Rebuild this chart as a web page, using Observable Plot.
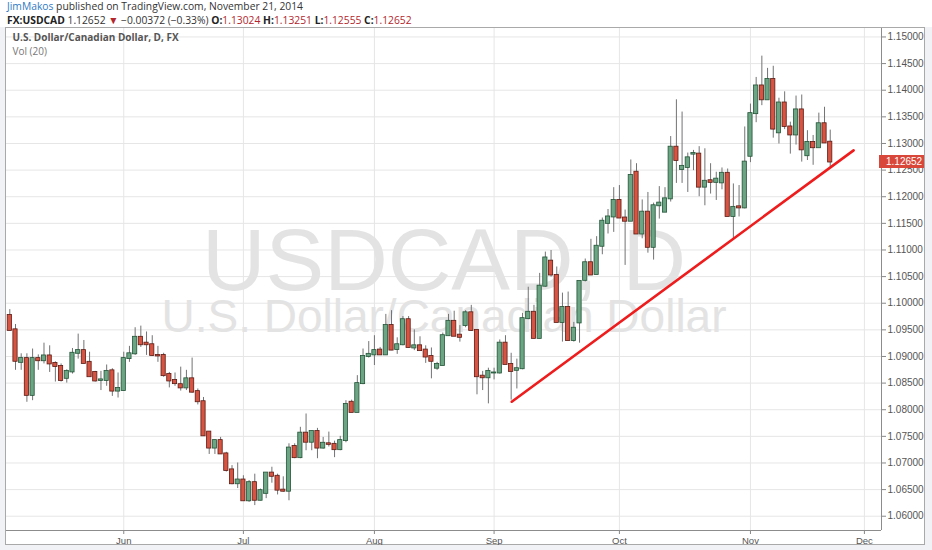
<!DOCTYPE html>
<html>
<head>
<meta charset="utf-8">
<script src="https://cdn.jsdelivr.net/npm/d3@7"></script>
<script src="https://cdn.jsdelivr.net/npm/@observablehq/plot@0.6"></script>
<style>
  html, body { margin: 0; padding: 0; background: #f0f2f6; }
  #hdr { width: 932px; height: 27px; background: #fff; font-family: "Open Sans", sans-serif; font-size: 10px; line-height: 13.6px; color: #333; position: relative; }
  #hdr .l1 { position: absolute; left: 7px; top: 0px; white-space: nowrap; font-size: 10.3px; }
  #hdr .l2 { position: absolute; left: 7px; top: 13.8px; white-space: nowrap; font-size: 10.3px; }
  #hdr .user { color: #2f7bc4; }
  #hdr b { color: #222; }
  #hdr .rd { color: #b3262c; }
  #wrap { margin-left: 5px; width: 920px; height: 518px; border: 1px solid #a9a9a9; box-sizing: border-box; background: #fff; }
  #wrap svg { display: block; }
</style>
</head>
<body>
<div id="hdr">
  <div class="l1"><span class="user">JimMakos</span> published on TradingView.com, November 21, 2014</div>
  <div class="l2"><b>FX:USDCAD</b> 1.12652 <span class="rd">&#9660;</span> &minus;0.00372 (&minus;0.33%) <b>O:</b><span class="rd">1.13024</span> <b>H:</b><span class="rd">1.13251</span> <b>L:</b><span class="rd">1.12555</span> <b>C:</b><span class="rd">1.12652</span></div>
</div>
<div id="wrap"></div>
<script>
// daily USDCAD candles, early May to Nov 21 2014 (bar index = trading day)
const open = [
  1.0977, 1.0950, 1.0889, 1.0896, 1.0827, 1.0896, 1.0892, 1.0901, 1.0887, 1.0881,
  1.0859, 1.0871, 1.0906, 1.0911, 1.0889, 1.0870, 1.0855, 1.0855, 1.0873, 1.0835,
  1.0836, 1.0896, 1.0905, 1.0936, 1.0925, 1.0922, 1.0902, 1.0902, 1.0866, 1.0855,
  1.0847, 1.0841, 1.0858, 1.0834, 1.0815, 1.0758, 1.0728, 1.0742, 1.0717, 1.0687,
  1.0661, 1.0668, 1.0629, 1.0663, 1.0630, 1.0643, 1.0681, 1.0675, 1.0649, 1.0647,
  1.0731, 1.0710, 1.0756, 1.0739, 1.0759, 1.0728, 1.0736, 1.0735, 1.0725, 1.0742,
  1.0814, 1.0795, 1.0849, 1.0900, 1.0903, 1.0912, 1.0903, 1.0958, 1.0913, 1.0922,
  1.0969, 1.0916, 1.0920, 1.0912, 1.0900, 1.0878, 1.0883, 1.0939, 1.0966, 1.0940,
  1.0958, 1.0982, 1.0949, 1.0863, 1.0860, 1.0869, 1.0869, 1.0925, 1.0885, 1.0874,
  1.0877, 1.0971, 1.0983, 1.0934, 1.1032, 1.1079, 1.1052, 1.0964, 1.0992, 1.0930,
  1.0963, 1.1043, 1.1076, 1.1054, 1.1107, 1.1150, 1.1162, 1.1193, 1.1160, 1.1154,
  1.1246, 1.1130, 1.1171, 1.1105, 1.1183, 1.1171, 1.1196, 1.1293, 1.1251, 1.1255,
  1.1280, 1.1280, 1.1218, 1.1230, 1.1227, 1.1226, 1.1244, 1.1163, 1.1181, 1.1179,
  1.1276, 1.1356, 1.1408, 1.1382, 1.1420, 1.1320, 1.1376, 1.1331, 1.1316, 1.1363,
  1.1277, 1.1302, 1.1292, 1.1337, 1.13024
];
const high = [
  1.0988, 1.0960, 1.0905, 1.0905, 1.0914, 1.0903, 1.0925, 1.0920, 1.0890, 1.0886,
  1.0875, 1.0915, 1.0942, 1.0930, 1.0908, 1.0872, 1.0872, 1.0884, 1.0877, 1.0869,
  1.0908, 1.0919, 1.0954, 1.0957, 1.0946, 1.0939, 1.0919, 1.0906, 1.0870, 1.0869,
  1.0880, 1.0874, 1.0897, 1.0839, 1.0823, 1.0758, 1.0743, 1.0748, 1.0720, 1.0695,
  1.0700, 1.0676, 1.0667, 1.0679, 1.0651, 1.0681, 1.0692, 1.0679, 1.0674, 1.0736,
  1.0736, 1.0767, 1.0792, 1.0760, 1.0765, 1.0748, 1.0758, 1.0741, 1.0750, 1.0817,
  1.0818, 1.0864, 1.0914, 1.0928, 1.0939, 1.0917, 1.0979, 1.0986, 1.0935, 1.0975,
  1.0975, 1.0950, 1.0937, 1.0920, 1.0916, 1.0889, 1.0944, 1.0979, 1.0985, 1.0958,
  1.0986, 1.0996, 1.0950, 1.0872, 1.0878, 1.0878, 1.0931, 1.0939, 1.0906, 1.0895,
  1.0981, 1.1030, 1.0996, 1.1056, 1.1096, 1.1099, 1.1068, 1.1019, 1.1021, 1.0964,
  1.1041, 1.1083, 1.1120, 1.1125, 1.1160, 1.1176, 1.1217, 1.1221, 1.1175, 1.1269,
  1.1262, 1.1194, 1.1208, 1.1188, 1.1219, 1.1217, 1.1313, 1.1382, 1.1359, 1.1282,
  1.1287, 1.1294, 1.1290, 1.1262, 1.1246, 1.1254, 1.1252, 1.1224, 1.1221, 1.1331,
  1.1374, 1.1424, 1.1464, 1.1441, 1.1445, 1.1385, 1.1397, 1.1340, 1.1389, 1.1391,
  1.1324, 1.1315, 1.1357, 1.1368, 1.13251
];
const low = [
  1.0948, 1.0874, 1.0874, 1.0814, 1.0817, 1.0874, 1.0886, 1.0870, 1.0852, 1.0852,
  1.0850, 1.0867, 1.0895, 1.0886, 1.0862, 1.0852, 1.0836, 1.0844, 1.0825, 1.0822,
  1.0835, 1.0889, 1.0902, 1.0917, 1.0902, 1.0900, 1.0889, 1.0861, 1.0841, 1.0844,
  1.0835, 1.0836, 1.0831, 1.0809, 1.0750, 1.0716, 1.0716, 1.0716, 1.0683, 1.0659,
  1.0652, 1.0628, 1.0626, 1.0620, 1.0629, 1.0633, 1.0662, 1.0640, 1.0645, 1.0629,
  1.0708, 1.0708, 1.0723, 1.0723, 1.0708, 1.0726, 1.0730, 1.0710, 1.0723, 1.0738,
  1.0795, 1.0795, 1.0847, 1.0897, 1.0883, 1.0903, 1.0902, 1.0911, 1.0904, 1.0920,
  1.0916, 1.0911, 1.0910, 1.0887, 1.0858, 1.0874, 1.0883, 1.0939, 1.0938, 1.0927,
  1.0954, 1.0947, 1.0828, 1.0836, 1.0811, 1.0856, 1.0867, 1.0885, 1.0818, 1.0839,
  1.0875, 1.0969, 1.0933, 1.0933, 1.1030, 1.1049, 1.0964, 1.0927, 1.0930, 1.0927,
  1.0925, 1.1040, 1.1053, 1.1054, 1.1091, 1.1130, 1.1133, 1.1160, 1.1071, 1.1154,
  1.1130, 1.1121, 1.1094, 1.1081, 1.1158, 1.1171, 1.1190, 1.1225, 1.1225, 1.1208,
  1.1249, 1.1200, 1.1183, 1.1205, 1.1193, 1.1213, 1.1163, 1.1121, 1.1162, 1.1177,
  1.1264, 1.1339, 1.1371, 1.1382, 1.1310, 1.1299, 1.1326, 1.1280, 1.1297, 1.1265,
  1.1268, 1.1259, 1.1292, 1.1301, 1.12555
];
const close = [
  1.0949, 1.0891, 1.0896, 1.0827, 1.0896, 1.0892, 1.0901, 1.0886, 1.0881, 1.0855,
  1.0872, 1.0906, 1.0911, 1.0887, 1.0862, 1.0854, 1.0856, 1.0872, 1.0835, 1.0840,
  1.0896, 1.0905, 1.0936, 1.0922, 1.0922, 1.0902, 1.0901, 1.0864, 1.0854, 1.0849,
  1.0841, 1.0858, 1.0833, 1.0815, 1.0751, 1.0728, 1.0742, 1.0717, 1.0686, 1.0661,
  1.0668, 1.0629, 1.0663, 1.0630, 1.0648, 1.0681, 1.0675, 1.0649, 1.0647, 1.0728,
  1.0710, 1.0756, 1.0739, 1.0759, 1.0728, 1.0737, 1.0735, 1.0725, 1.0742, 1.0810,
  1.0795, 1.0849, 1.0900, 1.0904, 1.0911, 1.0903, 1.0958, 1.0912, 1.0922, 1.0969,
  1.0917, 1.0920, 1.0911, 1.0899, 1.0891, 1.0885, 1.0939, 1.0966, 1.0938, 1.0936,
  1.0982, 1.0949, 1.0862, 1.0860, 1.0872, 1.0869, 1.0925, 1.0885, 1.0872, 1.0877,
  1.0971, 1.0983, 1.0934, 1.1032, 1.1085, 1.1053, 1.0964, 1.0992, 1.0930, 1.0953,
  1.1041, 1.1076, 1.1053, 1.1107, 1.1154, 1.1162, 1.1193, 1.1160, 1.1154, 1.1240,
  1.1130, 1.1171, 1.1105, 1.1183, 1.1188, 1.1196, 1.1293, 1.1268, 1.1257, 1.1273,
  1.1281, 1.1218, 1.1229, 1.1227, 1.1233, 1.1244, 1.1163, 1.1180, 1.1179, 1.1265,
  1.1356, 1.1408, 1.1382, 1.1420, 1.1327, 1.1376, 1.1332, 1.1316, 1.1363, 1.1288,
  1.1302, 1.1292, 1.1337, 1.1301, 1.12652
];

// month labels sit on the first bar of each month
const monthLabels = ["Jun", "Jul", "Aug", "Sep", "Oct", "Nov", "Dec"];
const monthBar = [20, 41, 64, 85, 107, 130, 150];
const priceTicks = [1.06, 1.065, 1.07, 1.075, 1.08, 1.085, 1.09, 1.095, 1.10,
  1.105, 1.11, 1.115, 1.12, 1.125, 1.13, 1.135, 1.14, 1.145, 1.15];

// hand drawn support line
const trendBar = [88.1, 148.1];
const trendPrice = [1.0815, 1.1287];

const bars = open.map((o, i) => ({i, open: o, high: high[i], low: low[i], close: close[i], up: close[i] >= o}));
const trend = trendBar.map((b, k) => ({i: b, p: trendPrice[k]}));
const monthName = new Map(monthBar.map((b, k) => [b, monthLabels[k]]));
const last = bars[bars.length - 1];

const axisFont = "Liberation Sans, Arial, sans-serif";

const chart = Plot.plot({
  width: 918,
  height: 516,
  marginLeft: 0,
  marginRight: 43,
  marginTop: 0,
  marginBottom: 14,
  style: {fontFamily: axisFont, background: "#fff", overflow: "visible"},
  x: {type: "linear", domain: [-0.58, 153], label: null},
  y: {domain: [1.05732, 1.15159], label: null},
  marks: [
    Plot.gridY(priceTicks, {stroke: "#e6e6e6", strokeOpacity: 1}),
    Plot.gridX(monthBar, {stroke: "#e6e6e6", strokeOpacity: 1}),
    Plot.text(["USDCAD, D"], {frameAnchor: "middle", dy: -18, fontSize: 88, fill: "#e3e3e3", fontFamily: axisFont}),
    Plot.text(["U.S. Dollar/Canadian Dollar"], {frameAnchor: "middle", dy: 38, fontSize: 46, fill: "#e3e3e3", fontFamily: axisFont}),
    Plot.text(["U.S. Dollar/Canadian Dollar, D, FX"], {frameAnchor: "top-left", dx: 6, dy: 5.5, fontSize: 10, fontWeight: "bold", fill: "#555", fontFamily: "Open Sans, sans-serif"}),
    Plot.text(["Vol (20)"], {frameAnchor: "top-left", dx: 6, dy: 19.5, fontSize: 10, fill: "#777", fontFamily: "Open Sans, sans-serif"}),
    Plot.ruleX(bars, {x: "i", y1: "low", y2: "high", stroke: "#737375", strokeWidth: 1}),
    Plot.rect(bars, {
      x1: d => d.i - 0.37,
      x2: d => d.i + 0.37,
      y1: "open",
      y2: "close",
      insetTop: -0.5,
      insetBottom: -0.5,
      fill: d => d.up ? "#6ba583" : "#d75442",
      stroke: d => d.up ? "#225437" : "#5b1a13",
      strokeWidth: 0.8
    }),
    Plot.line(trend, {x: "i", y: "p", stroke: "#ee1c1c", strokeWidth: 2.6}),
    Plot.axisY(priceTicks, {anchor: "right", label: null, tickSize: 4, tickPadding: 2, tickFormat: d3.format(".5f"), fontSize: 10, color: "#555", stroke: "#888"}),
    Plot.axisX(monthBar, {anchor: "bottom", label: null, tickSize: 4, tickPadding: 3, tickFormat: d => monthName.get(d), fontSize: 9.5, color: "#555", stroke: "#888"}),
    Plot.ruleY([1.05732], {stroke: "#8c8c8c"}),
    Plot.ruleX([153], {stroke: "#8c8c8c"})
  ]
});

// last price tag on the price axis
const yLast = chart.scale("y").apply(last.close);
const xEdge = chart.scale("x").apply(153);
const svg = d3.select(chart);
svg.append("rect")
  .attr("x", xEdge - 2).attr("y", yLast - 6.5)
  .attr("width", 918 - xEdge + 2).attr("height", 13)
  .attr("fill", "#d9473a");
svg.append("text")
  .attr("x", xEdge + 5).attr("y", yLast)
  .attr("dy", "0.35em")
  .attr("text-anchor", "start")
  .attr("fill", "#fff")
  .attr("font-size", 10)
  .attr("font-family", axisFont)
  .text(d3.format(".5f")(last.close));

document.getElementById("wrap").append(chart);
</script>
</body>
</html>
